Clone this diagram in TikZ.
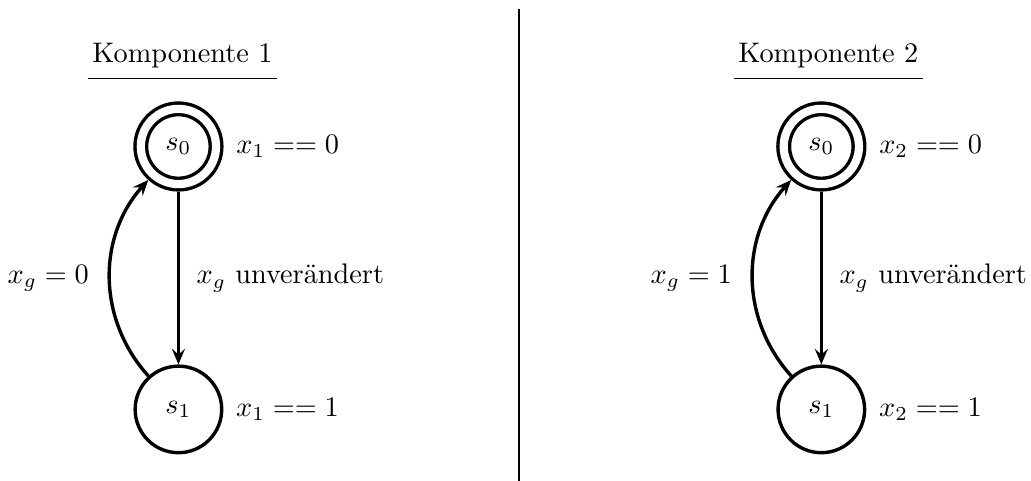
\documentclass[tikz,border=0pt]{standalone}
\usepackage{amsmath,amssymb}
\usepackage{tikz}
\usetikzlibrary{positioning,arrows.meta}

\tikzset{
    state/.style={circle, draw, very thick, minimum size=30.6pt, inner sep=0pt},
    accept/.style={state, double, double distance=2.9pt, minimum size=26.6pt, outer sep=2.65pt},
    trans/.style={very thick, -{Stealth[length=5.5pt, width=4.6pt, inset=2pt]}},
    title/.style={anchor=base, inner xsep=1.5pt},
}

\begin{document}
\begin{tikzpicture}
    \useasboundingbox (0,0) rectangle (12.81,5.975);

    % Komponente 1 (left)
    \node[title] (k1) at (2.267,5.193) {Komponente 1};
    \draw[semithick] (k1.south west) -- (k1.south east);

    \node[accept] (s0l) at (2.217,4.155) {$s_0$};
    \node[state] (s1l) at (2.217,0.888) {$s_1$};
    \node[right=1pt of s0l] (c0l) {$x_1 == 0$};
    \node[right=1pt of s1l] (c1l) {$x_1 == 1$};

    \draw[trans] (s0l) -- (s1l) node[midway, right=2.5pt] (ul) {$x_g$ unverändert};
    \draw[trans] (s1l) to[bend left=42] node[midway, left=3.5pt] (gl) {$x_g = 0$} (s0l);

    % divider
    \coordinate (top) at (6.447,5.86);
    \coordinate (bot) at (6.447,0);
    \draw[thick] (top) -- (bot);

    % Komponente 2 (right)
    \node[title] (k2) at (10.292,5.193) {Komponente 2};
    \draw[semithick] (k2.south west) -- (k2.south east);

    \node[accept] (s0r) at (10.205,4.155) {$s_0$};
    \node[state] (s1r) at (10.205,0.888) {$s_1$};
    \node[right=1pt of s0r] (c0r) {$x_2 == 0$};
    \node[right=1pt of s1r] (c1r) {$x_2 == 1$};

    \draw[trans] (s0r) -- (s1r) node[midway, right=2.5pt] (ur) {$x_g$ unverändert};
    \draw[trans] (s1r) to[bend left=42] node[midway, left=3.5pt] (gr) {$x_g = 1$} (s0r);
\end{tikzpicture}
\end{document}
